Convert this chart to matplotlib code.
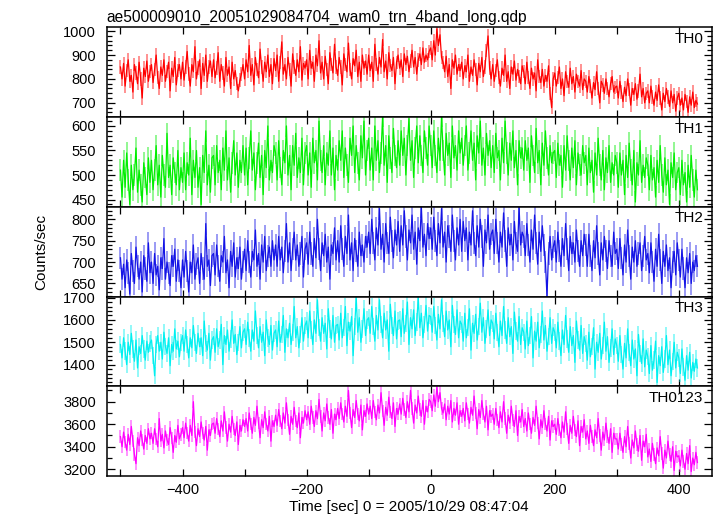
import numpy as np
import matplotlib.pyplot as plt
from matplotlib.ticker import MultipleLocator

plt.rcParams['font.family'] = ['Liberation Sans', 'DejaVu Sans']

# time bins [sec], 2.5 s apart, 0 = 2005/10/29 08:47:04
t_start = -500
t_step = 2.5

th0 = [850, 800, 865, 770, 835, 880, 790, 815, 745, 860, 825, 780, 870, 800, 720, 845, 810, 875, 790, 830,
       860, 785, 840, 900, 805, 760, 850, 815, 880, 790, 830, 870, 750, 845, 810, 890, 775, 835, 860, 800,
       870, 795, 850, 915, 820, 770, 860, 830, 935, 800, 845, 880, 760, 865, 815, 900, 790, 850, 875, 810,
       880, 805, 845, 910, 790, 860, 825, 770, 890, 815, 850, 760, 870, 800, 835, 780, 750, 795, 820, 860,
       800, 880, 830, 940, 815, 860, 775, 890, 840, 805, 925, 850, 790, 870, 830, 900, 810, 860, 780, 885,
       835, 900, 790, 870, 955, 820, 860, 800, 890, 840, 770, 905, 850, 815, 880, 830, 935, 795, 865, 845,
       880, 800, 920, 845, 870, 790, 900, 855, 960, 825, 870, 800, 895, 840, 780, 910, 860, 825, 945, 850,
       815, 890, 850, 775, 905, 860, 830, 950, 840, 800, 885, 855, 920, 810, 870, 790, 900, 845, 875, 820,
       900, 835, 870, 790, 945, 860, 820, 890, 850, 965, 830, 875, 800, 910, 855, 835, 890, 780, 870, 900,
       845, 880, 810, 905, 860, 895, 830, 875, 920, 850, 890, 820, 880, 905, 860, 930, 870, 900, 880, 915,
       930, 880, 960, 900, 1010, 940, 985, 890, 870, 830, 895, 810, 860, 760, 880, 845, 900, 820, 860, 835,
       870, 800, 855, 830, 900, 790, 850, 815, 880, 840, 775, 865, 830, 890, 810, 850, 920, 980, 845, 800,
       860, 790, 835, 880, 805, 770, 845, 815, 900, 790, 830, 760, 850, 820, 875, 795, 840, 810, 780, 855,
       830, 780, 870, 805, 760, 845, 800, 825, 750, 880, 810, 785, 840, 770, 815, 790, 855, 740, 680, 800,
       825, 770, 805, 850, 760, 800, 730, 830, 790, 765, 845, 780, 810, 745, 820, 790, 770, 835, 755, 800,
       790, 745, 810, 770, 720, 785, 755, 830, 760, 700, 790, 775, 740, 800, 760, 725, 780, 810, 745, 765,
       770, 720, 790, 745, 705, 765, 730, 800, 755, 690, 760, 735, 780, 715, 750, 820, 725, 760, 700, 740,
       750, 700, 770, 725, 690, 745, 710, 775, 720, 670, 740, 705, 760, 725, 685, 750, 700, 735, 665, 720,
       740, 690, 720, 670, 735, 705, 660, 725, 690, 745, 680, 710, 695]

th1 = [510, 455, 530, 475, 545, 490, 440, 520, 470, 500, 555, 465, 510, 480, 445, 525, 495, 460, 535, 485,
       530, 470, 510, 560, 480, 520, 455, 540, 500, 475, 585, 495, 520, 460, 535, 505, 480, 550, 470, 515,
       485, 545, 470, 525, 500, 575, 460, 530, 495, 550, 475, 515, 440, 540, 505, 590, 480, 520, 465, 535,
       540, 480, 560, 505, 530, 470, 555, 510, 590, 490, 535, 465, 525, 570, 500, 545, 475, 530, 505, 560,
       500, 555, 480, 535, 590, 510, 545, 470, 525, 565, 495, 540, 460, 550, 515, 600, 490, 530, 505, 560,
       545, 490, 570, 515, 480, 550, 525, 600, 500, 540, 470, 560, 520, 585, 495, 535, 505, 575, 480, 545,
       560, 500, 545, 475, 575, 525, 550, 490, 610, 530, 505, 560, 480, 545, 520, 590, 500, 555, 470, 540,
       510, 570, 530, 590, 495, 555, 520, 485, 575, 540, 600, 505, 560, 525, 490, 580, 535, 610, 500, 550,
       575, 510, 555, 490, 600, 530, 570, 505, 545, 620, 520, 560, 485, 580, 535, 505, 595, 540, 515, 570,
       520, 590, 540, 575, 500, 560, 615, 530, 570, 495, 555, 600, 525, 580, 540, 505, 590, 555, 520, 600,
       560, 515, 590, 540, 505, 575, 530, 620, 550, 500, 585, 540, 565, 495, 600, 535, 560, 510, 590, 545,
       575, 520, 560, 600, 510, 545, 590, 530, 565, 490, 580, 545, 610, 520, 555, 500, 585, 540, 570, 515,
       560, 505, 585, 535, 550, 490, 575, 525, 610, 545, 500, 565, 530, 590, 515, 550, 480, 570, 535, 555,
       510, 570, 530, 555, 485, 580, 540, 505, 595, 525, 550, 480, 565, 520, 590, 535, 500, 560, 525, 545,
       550, 495, 565, 520, 540, 475, 560, 510, 580, 530, 490, 555, 515, 570, 480, 545, 520, 500, 560, 525,
       540, 480, 555, 505, 530, 465, 545, 500, 575, 520, 490, 550, 470, 535, 505, 560, 485, 525, 500, 540,
       525, 475, 545, 500, 530, 460, 540, 495, 565, 510, 480, 550, 445, 525, 500, 570, 485, 520, 495, 535,
       520, 470, 540, 490, 515, 455, 530, 485, 560, 500, 465, 535, 480, 510, 440, 525, 495, 545, 470, 505,
       515, 460, 530, 480, 505, 445, 520, 475, 540, 490, 455, 510, 470]

th2 = [710, 660, 695, 640, 705, 675, 625, 720, 680, 650, 735, 690, 660, 700, 630, 715, 685, 655, 745, 675,
       700, 650, 720, 670, 690, 635, 710, 685, 755, 660, 700, 675, 645, 715, 690, 730, 655, 705, 680, 640,
       705, 665, 725, 680, 630, 700, 675, 740, 660, 695, 710, 650, 720, 685, 660, 790, 690, 705, 645, 715,
       720, 670, 740, 690, 655, 715, 700, 760, 675, 705, 640, 725, 690, 745, 665, 710, 685, 735, 660, 700,
       730, 680, 750, 700, 665, 725, 705, 775, 690, 720, 660, 740, 700, 760, 680, 715, 735, 690, 750, 705,
       740, 690, 760, 705, 735, 675, 725, 790, 700, 745, 680, 730, 770, 705, 740, 690, 720, 760, 665, 730,
       745, 695, 770, 720, 690, 755, 710, 800, 730, 680, 745, 715, 765, 700, 735, 660, 740, 720, 780, 705,
       750, 700, 785, 730, 690, 760, 720, 810, 705, 745, 680, 755, 725, 690, 770, 715, 740, 700, 760, 735,
       770, 720, 800, 745, 705, 780, 740, 825, 730, 765, 700, 790, 745, 720, 805, 750, 710, 775, 740, 795,
       725, 785, 740, 820, 760, 705, 775, 745, 810, 730, 770, 695, 780, 750, 830, 735, 765, 715, 790, 755,
       780, 730, 805, 750, 715, 790, 745, 825, 735, 770, 700, 785, 760, 725, 810, 750, 705, 780, 740, 800,
       725, 795, 750, 780, 705, 770, 740, 820, 745, 715, 785, 735, 800, 760, 690, 775, 745, 810, 730, 765,
       775, 720, 800, 745, 700, 770, 735, 815, 750, 690, 780, 740, 765, 705, 795, 745, 725, 830, 740, 770,
       760, 715, 790, 740, 700, 775, 730, 810, 745, 695, 770, 725, 785, 740, 700, 620, 720, 760, 705, 735,
       750, 700, 770, 725, 690, 755, 715, 790, 730, 680, 760, 720, 745, 700, 775, 725, 690, 750, 715, 765,
       740, 690, 765, 715, 680, 750, 710, 785, 720, 670, 745, 705, 760, 725, 685, 750, 715, 690, 770, 720,
       730, 685, 755, 710, 670, 740, 700, 775, 715, 660, 735, 700, 750, 690, 720, 745, 680, 715, 760, 705,
       720, 675, 745, 700, 655, 730, 690, 765, 705, 650, 725, 690, 740, 680, 710, 640, 700, 725, 670, 745,
       705, 665, 730, 685, 640, 710, 675, 720, 650, 700, 680, 715, 690]

th3 = [1490, 1430, 1520, 1460, 1400, 1500, 1445, 1540, 1470, 1415, 1510, 1385, 1480, 1450, 1530, 1470, 1420, 1505, 1455, 1495,
       1510, 1440, 1350, 1490, 1530, 1460, 1500, 1425, 1545, 1480, 1450, 1520, 1395, 1490, 1460, 1560, 1470, 1505, 1435, 1500,
       1530, 1460, 1555, 1490, 1430, 1520, 1475, 1575, 1500, 1450, 1540, 1480, 1520, 1440, 1595, 1495, 1465, 1540, 1420, 1510,
       1525, 1455, 1560, 1480, 1510, 1580, 1400, 1530, 1490, 1555, 1460, 1515, 1600, 1495, 1535, 1445, 1500, 1570, 1475, 1545,
       1560, 1490, 1590, 1520, 1460, 1555, 1505, 1640, 1530, 1475, 1570, 1500, 1545, 1440, 1600, 1520, 1490, 1575, 1465, 1540,
       1555, 1480, 1595, 1500, 1535, 1620, 1455, 1560, 1520, 1585, 1490, 1545, 1660, 1520, 1570, 1475, 1535, 1610, 1505, 1575,
       1595, 1520, 1640, 1555, 1490, 1600, 1540, 1690, 1565, 1505, 1610, 1540, 1585, 1470, 1650, 1560, 1515, 1620, 1500, 1575,
       1580, 1510, 1630, 1520, 1565, 1660, 1485, 1590, 1550, 1615, 1440, 1570, 1700, 1545, 1610, 1500, 1560, 1650, 1530, 1600,
       1610, 1540, 1660, 1570, 1505, 1620, 1555, 1690, 1580, 1520, 1630, 1555, 1600, 1460, 1670, 1575, 1530, 1640, 1515, 1595,
       1600, 1525, 1650, 1540, 1585, 1680, 1490, 1610, 1560, 1645, 1530, 1590, 1700, 1565, 1630, 1520, 1580, 1665, 1550, 1620,
       1615, 1545, 1660, 1575, 1510, 1625, 1560, 1690, 1585, 1525, 1640, 1555, 1600, 1480, 1665, 1580, 1535, 1645, 1520, 1595,
       1580, 1505, 1630, 1520, 1565, 1650, 1465, 1585, 1540, 1625, 1510, 1570, 1675, 1545, 1610, 1495, 1560, 1645, 1530, 1600,
       1585, 1515, 1630, 1545, 1480, 1595, 1530, 1660, 1555, 1495, 1610, 1525, 1570, 1450, 1635, 1550, 1505, 1615, 1490, 1565,
       1545, 1470, 1595, 1485, 1530, 1615, 1430, 1550, 1505, 1590, 1475, 1535, 1640, 1510, 1575, 1460, 1525, 1610, 1495, 1565,
       1545, 1475, 1590, 1505, 1440, 1555, 1490, 1620, 1515, 1455, 1570, 1485, 1530, 1410, 1595, 1510, 1465, 1575, 1450, 1525,
       1495, 1420, 1545, 1435, 1480, 1565, 1380, 1500, 1455, 1540, 1425, 1485, 1590, 1460, 1525, 1410, 1475, 1560, 1445, 1515,
       1485, 1415, 1530, 1445, 1380, 1495, 1430, 1560, 1455, 1395, 1510, 1425, 1470, 1350, 1535, 1450, 1405, 1515, 1390, 1465,
       1435, 1360, 1485, 1375, 1420, 1505, 1320, 1440, 1395, 1480, 1365, 1425, 1530, 1400, 1465, 1350, 1415, 1500, 1385, 1455,
       1430, 1360, 1470, 1390, 1330, 1440, 1375, 1455, 1340, 1410, 1370, 1425, 1385]

th0123 = [3490, 3400, 3530, 3440, 3370, 3510, 3420, 3580, 3450, 3330, 3250, 3480, 3410, 3540, 3460, 3380, 3500, 3430, 3560, 3470,
          3520, 3430, 3560, 3470, 3400, 3650, 3450, 3510, 3390, 3540, 3460, 3420, 3570, 3480, 3350, 3500, 3440, 3590, 3470, 3510,
          3570, 3480, 3610, 3520, 3450, 3590, 3500, 3800, 3530, 3410, 3560, 3490, 3620, 3520, 3460, 3580, 3370, 3550, 3500, 3600,
          3610, 3520, 3650, 3560, 3490, 3630, 3540, 3710, 3570, 3450, 3600, 3530, 3670, 3560, 3500, 3620, 3420, 3590, 3540, 3640,
          3580, 3650, 3540, 3700, 3600, 3520, 3660, 3590, 3760, 3610, 3480, 3640, 3570, 3710, 3600, 3540, 3670, 3450, 3630, 3580,
          3680, 3590, 3730, 3630, 3560, 3700, 3610, 3790, 3640, 3510, 3670, 3600, 3750, 3630, 3570, 3700, 3480, 3660, 3610, 3720,
          3640, 3710, 3600, 3760, 3660, 3580, 3720, 3650, 3820, 3670, 3540, 3700, 3630, 3780, 3660, 3600, 3730, 3520, 3690, 3640,
          3740, 3650, 3790, 3690, 3620, 3760, 3670, 3900, 3700, 3570, 3730, 3660, 3810, 3690, 3630, 3770, 3550, 3720, 3670, 3780,
          3690, 3760, 3650, 3810, 3710, 3640, 3770, 3700, 3880, 3720, 3590, 3750, 3680, 3840, 3710, 3650, 3790, 3580, 3740, 3690,
          3780, 3690, 3830, 3730, 3660, 3800, 3710, 3900, 3740, 3610, 3770, 3700, 3850, 3730, 3670, 3810, 3600, 3760, 3710, 3820,
          3800, 3720, 3860, 3760, 3930, 3800, 3880, 3740, 3700, 3780, 3640, 3760, 3690, 3810, 3620, 3740, 3680, 3790, 3600, 3720,
          3670, 3740, 3630, 3790, 3690, 3610, 3750, 3680, 3850, 3700, 3560, 3730, 3660, 3810, 3690, 3620, 3760, 3550, 3720, 3670,
          3690, 3600, 3740, 3640, 3570, 3710, 3620, 3800, 3650, 3520, 3680, 3610, 3760, 3640, 3580, 3720, 3500, 3670, 3620, 3730,
          3580, 3650, 3540, 3700, 3600, 3520, 3660, 3590, 3760, 3610, 3470, 3640, 3570, 3720, 3600, 3540, 3670, 3460, 3630, 3580,
          3600, 3510, 3650, 3550, 3480, 3620, 3530, 3710, 3560, 3430, 3590, 3520, 3670, 3550, 3490, 3630, 3410, 3580, 3530, 3640,
          3470, 3540, 3430, 3590, 3490, 3410, 3550, 3480, 3650, 3500, 3370, 3530, 3460, 3610, 3490, 3430, 3560, 3350, 3520, 3470,
          3470, 3380, 3520, 3420, 3350, 3490, 3400, 3580, 3430, 3300, 3460, 3390, 3540, 3420, 3360, 3500, 3280, 3450, 3400, 3510,
          3310, 3380, 3270, 3430, 3330, 3250, 3390, 3320, 3490, 3340, 3210, 3370, 3300, 3450, 3330, 3270, 3400, 3190, 3360, 3310,
          3320, 3230, 3370, 3270, 3200, 3340, 3250, 3410, 3180, 3300, 3240, 3350, 3260]

# rough size of the error bars of each band
errs = [28, 22, 26, 39, 55]

names = ["TH0", "TH1", "TH2", "TH3", "TH0123"]
colors = ["#ff0000", "#00ee00", "#1414e6", "#00f0f0", "#ff00ff"]
ylims = [(640, 1016), (435, 618), (619, 829), (1302, 1704), (3138, 3935)]
major = [100, 50, 50, 100, 200]
minor = [20, 10, 10, 20, 100]


def main():
  series = [th0, th1, th2, th3, th0123]
  fig, axes = plt.subplots(5, 1, sharex=True, figsize=(7.17, 5.16), dpi=100)
  fig.subplots_adjust(left=0.149, right=0.9926, top=0.947, bottom=0.077, hspace=0)

  for i, ax in enumerate(axes):
    y = np.array(series[i])
    t = t_start + t_step * np.arange(len(y))
    ax.errorbar(t, y, yerr=errs[i], fmt="none", ecolor=colors[i], elinewidth=1.2, alpha=0.5)
    ax.plot(t, y, color=colors[i], lw=0.9)
    ax.set_ylim(*ylims[i])
    ax.set_xlim(-522, 453)
    ax.yaxis.set_major_locator(MultipleLocator(major[i]))
    ax.yaxis.set_minor_locator(MultipleLocator(minor[i]))
    ax.xaxis.set_major_locator(MultipleLocator(200))
    ax.xaxis.set_minor_locator(MultipleLocator(100))
    ax.tick_params(which="both", direction="in", top=True, right=True, width=0.9, labelsize=10.5)
    ax.tick_params(axis="y", which="major", length=6, pad=8)
    ax.tick_params(axis="y", which="minor", length=3.3)
    ax.tick_params(axis="x", which="both", length=5, pad=5)
    for s in ax.spines.values():
      s.set_linewidth(1.1)
    ax.text(0.986, 0.95, names[i], transform=ax.transAxes, ha="right", va="top", fontsize=11)

  axes[0].set_title("ae500009010_20051029084704_wam0_trn_4band_long.qdp", loc="left", fontsize=11.2, pad=4)
  axes[-1].set_xlabel("Time [sec] 0 = 2005/10/29 08:47:04", fontsize=11, labelpad=2)
  fig.text(0.058, 0.512, "Counts/sec", rotation=90, ha="center", va="center", fontsize=11)

  fig.savefig("out.png", dpi=100)

if __name__ == "__main__":
  main()
